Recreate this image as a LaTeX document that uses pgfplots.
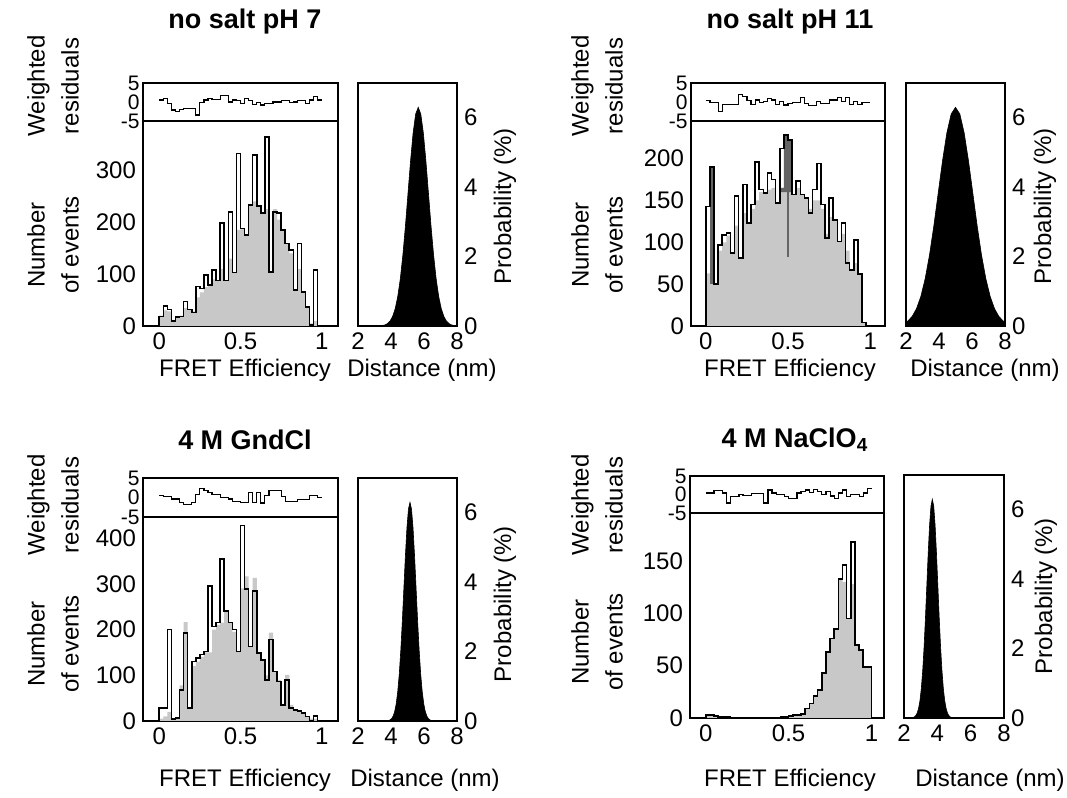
\documentclass[border=0pt]{standalone}
\usepackage{fontspec}
\setmainfont{Liberation Sans}
\usepackage{pgfplots}
\usepackage{pgfplotstable}
\pgfplotsset{compat=1.18}
\definecolor{fitgray}{RGB}{200,200,200}
\definecolor{darkbar}{RGB}{100,100,100}
\newcommand{\labfont}{\fontsize{12}{17}\selectfont}
\newcommand{\titfont}{\bfseries\fontsize{13.5}{16}\selectfont}
\pgfplotsset{
  base/.style={scale only axis, axis line style={line width=1pt}, tick style={draw=none},
    major tick length=0pt, /pgf/number format/assume math mode=true,
    ticklabel style={font=\fontsize{12}{14}\selectfont}},
  res/.style={base, width=97.5pt, height=19pt, ymin=-5, ymax=5, ytick={-5,0,5},
    yticklabels={-5,0,5}, xtick=\empty, xmin=-0.1, xmax=1.1,
    yticklabel style={font=\fontsize{10.5}{11}\selectfont, inner sep=1.5pt}},
  hist/.style={base, width=97.5pt, height=102.5pt, ymin=0, xtick={0,0.5,1},
    xticklabels={0,0.5,1}, xmin=-0.1, xmax=1.1},
  dist/.style={base, width=49.5pt, height=121.5pt, xmin=2, xmax=8, ymin=0, ymax=7,
    xtick={2,4,6,8}, ytick={0,2,4,6}, yticklabel pos=right},
  datline/.style={const plot, black, line width=0.8pt},
  fitfill/.style={const plot, fill=fitgray, draw=none},
  resline/.style={const plot, black, line width=0.6pt},
}
\pgfplotstableread{
x D F R
0 0 0 0.5
0 18 20 0.5
0.025 38 30 0.9
0.05 32 28 -0.4
0.075 10 12 -2.1
0.1 17 17 -2.6
0.125 18 20 -2.0
0.15 47 35 -1.7
0.175 32 32 -1.7
0.2 26 28 -1.7
0.225 76 55 -3.4
0.25 72 65 -0.2
0.275 98 75 0.5
0.3 79 79 0.9
0.325 108 90 0.7
0.35 88 88 0.7
0.375 199 110 1.8
0.4 88 88 1.8
0.425 220 130 0.0
0.45 103 103 0.5
0.475 332 185 0.3
0.5 188 188 -0.4
0.525 175 175 0.9
0.55 233 233 0.3
0.575 329 240 -0.6
0.6 231 231 -0.1
0.625 218 218 -0.8
0.65 364 225 -0.4
0.675 104 104 -0.4
0.7 220 225 0.0
0.725 218 205 0.0
0.75 185 185 0.3
0.775 159 159 0.3
0.8 146 140 -0.2
0.825 69 69 0.0
0.85 159 110 0.3
0.875 66 66 0.3
0.9 37 37 -0.4
0.925 2 5 0.5
0.95 108 10 1.5
0.975 0 0 0.5
1 0 0 0.5
}\tabA
\pgfplotstableread{
x D F R
0 0 0 0.3
0 143 63 0.3
0.025 190 50 -0.2
0.05 50 50 -0.2
0.075 97 90 -2.5
0.1 109 100 -0.6
0.125 111 108 -0.6
0.15 87 87 -0.6
0.175 155 120 -0.6
0.2 81 81 1.9
0.225 169 135 1.4
0.25 123 123 0.3
0.275 145 140 -0.6
0.3 196 150 0.5
0.325 163 160 -0.2
0.35 159 159 0.1
0.375 183 163 1.0
0.4 175 165 0.5
0.425 147 147 -0.6
0.45 212 165 0.1
0.475 228 160 -0.8
0.5 222 160 -0.4
0.525 157 157 -0.2
0.55 173 165 -0.2
0.575 157 157 1.2
0.6 153 153 -0.5
0.625 135 140 -1.0
0.65 163 150 -1.0
0.675 194 150 0.1
0.7 145 140 -0.4
0.725 105 110 -0.4
0.75 153 130 0.5
0.775 127 127 0.5
0.8 101 101 1.2
0.825 123 110 0.1
0.85 75 90 1.2
0.875 67 67 -0.6
0.9 103 75 0.1
0.925 62 62 -0.6
0.95 4 4 -0.2
0.975 0 0 -0.2
1 0 0 -0.2
}\tabB
\pgfplotstableread{
x D F R
0 0 0 0.5
0 28 5 0.5
0.025 28 10 0.3
0.05 200 20 0.3
0.075 4 4 -0.4
0.1 6 6 -0.4
0.125 68 78 -1.2
0.15 193 216 -1.8
0.175 28 28 -1.8
0.2 130 120 -1.2
0.225 138 130 0.7
0.25 145 140 2.4
0.275 152 150 1.8
0.3 295 150 1.3
0.325 207 200 0.7
0.35 215 210 0.7
0.375 354 215 -0.1
0.4 240 240 -0.1
0.425 215 215 -0.4
0.45 200 195 -1.0
0.475 152 152 -1.0
0.5 427 290 -1.2
0.525 288 316 -1.2
0.55 163 163 1.2
0.575 284 313 -1.2
0.6 149 149 1.2
0.625 134 134 -1.4
0.65 90 100 0.5
0.675 178 193 1.8
0.7 108 108 1.8
0.725 86 90 1.8
0.75 35 35 0.3
0.775 90 101 -1.0
0.8 28 35 -1.0
0.825 24 25 -1.0
0.85 22 20 -0.6
0.875 17 15 -0.6
0.9 10 10 -0.6
0.925 0 5 0.5
0.95 11 5 0.5
0.975 0 0 0.1
1 0 0 0.1
}\tabC
\pgfplotstableread{
x D F R
0 0 0 0.4
0 3 3 0.4
0.025 3 3 0.4
0.05 2 2 1.0
0.075 1 1 1.0
0.1 1 1 0.4
0.125 1 1 -2.3
0.15 0 0 -0.5
0.175 0 0 -0.5
0.2 0 0 0.0
0.225 0 0 -0.3
0.25 0 0 -0.3
0.275 0 0 0.3
0.3 0 0 0.3
0.325 0 0 0.3
0.35 0 0 -2.3
0.375 0 0 1.2
0.4 0 0 0.4
0.425 0 0 -0.1
0.45 1 1 -0.1
0.475 1 1 -0.5
0.5 2 2 -1.0
0.525 3 3 -1.0
0.55 3 3 0.4
0.575 4 4 0.8
0.6 9 9 1.2
0.625 14 14 0.5
0.65 21 21 1.4
0.675 27 27 0.8
0.7 43 43 -0.1
0.725 63 63 0.8
0.75 76 76 -0.4
0.775 85 85 -1.0
0.8 133 133 0.4
0.825 146 130 1.2
0.85 95 95 -0.5
0.875 168 128 -0.1
0.9 70 70 -0.1
0.925 65 65 -0.5
0.95 49 49 0.4
0.975 49 49 1.7
1 0 0 1.7
}\tabD
\begin{document}
\begin{tikzpicture}
\useasboundingbox (0,0) rectangle (533.5pt,399pt);
% ---------- Panel A: no salt pH 7 ----------
\begin{axis}[res, at={(71.5pt,338.5pt)}, anchor=south west]
\addplot[resline] table[x=x,y=R]{\tabA};
\end{axis}
\begin{axis}[hist, at={(71.5pt,236pt)}, anchor=south west, ymax=395, ytick={0,100,200,300}]
\addplot[fitfill] table[x=x,y=F]{\tabA} \closedcycle;
\addplot[datline] table[x=x,y=D]{\tabA};
\end{axis}
\begin{axis}[dist, at={(179pt,236pt)}, anchor=south west]
\addplot[fill=black, draw=black, line width=0.3pt] coordinates {(3.48,0.014) (3.635,0.032) (3.79,0.070) (3.945,0.144) (4.1,0.277) (4.255,0.501) (4.41,0.852) (4.565,1.363) (4.72,2.046) (4.875,2.884) (5.03,3.821) (5.185,4.755) (5.34,5.560) (5.495,6.106) (5.65,6.300) (5.805,6.106) (5.96,5.560) (6.115,4.755) (6.27,3.821) (6.425,2.884) (6.58,2.046) (6.735,1.363) (6.89,0.852) (7.045,0.501) (7.2,0.277) (7.355,0.144) (7.51,0.070) (7.665,0.032) (7.82,0.014)} \closedcycle;
\end{axis}
% ---------- Panel B: no salt pH 11 ----------
\begin{axis}[res, at={(345.5pt,338.5pt)}, anchor=south west, width=97pt, xmin=-0.09, xmax=1.09]
\addplot[resline] table[x=x,y=R]{\tabB};
\end{axis}
\begin{axis}[hist, at={(345.5pt,236pt)}, anchor=south west, width=97pt, xmin=-0.09, xmax=1.09, ymax=245, ytick={0,50,100,150,200}]
\addplot[fitfill] table[x=x,y=F]{\tabB} \closedcycle;
\addplot[fill=darkbar, draw=none] coordinates {(0.025,50) (0.05,50) (0.05,190) (0.025,190)} --cycle;
\addplot[fill=darkbar, draw=none] coordinates {(0.45,165) (0.475,165) (0.475,228) (0.5,228) (0.5,222) (0.525,222) (0.525,160) (0.45,160)} --cycle;
\addplot[fill=darkbar, draw=none] coordinates {(0.493,83) (0.509,83) (0.509,165) (0.493,165)} --cycle;
\addplot[datline] table[x=x,y=D]{\tabB};
\end{axis}
\begin{axis}[dist, at={(453pt,236pt)}, anchor=south west]
\addplot[fill=black, draw=black, line width=0.3pt] coordinates {(1.85,0.070) (2.1125,0.144) (2.375,0.277) (2.6375,0.501) (2.9,0.852) (3.1625,1.363) (3.425,2.046) (3.6875,2.884) (3.95,3.821) (4.2125,4.755) (4.475,5.560) (4.7375,6.106) (5,6.300) (5.2625,6.106) (5.525,5.560) (5.7875,4.755) (6.05,3.821) (6.3125,2.884) (6.575,2.046) (6.8375,1.363) (7.1,0.852) (7.3625,0.501) (7.625,0.277) (7.8875,0.144) (8.15,0.070)} \closedcycle;
\end{axis}
% ---------- Panel C: 4 M GndCl ----------
\begin{axis}[res, at={(71.5pt,140.5pt)}, anchor=south west, height=19.5pt]
\addplot[resline] table[x=x,y=R]{\tabC};
\end{axis}
\begin{axis}[hist, at={(71.5pt,38.5pt)}, anchor=south west, height=102pt, ymax=446, ytick={0,100,200,300,400}]
\addplot[fitfill] table[x=x,y=F]{\tabC} \closedcycle;
\addplot[datline] table[x=x,y=D]{\tabC};
\end{axis}
\begin{axis}[dist, at={(179pt,38.5pt)}, anchor=south west, height=121.5pt]
\addplot[fill=black, draw=black, line width=0.3pt] coordinates {(3.855,0.014) (3.9475,0.032) (4.04,0.070) (4.1325,0.144) (4.225,0.277) (4.3175,0.501) (4.41,0.852) (4.5025,1.363) (4.595,2.046) (4.6875,2.884) (4.78,3.821) (4.8725,4.755) (4.965,5.560) (5.0575,6.106) (5.15,6.300) (5.2425,6.106) (5.335,5.560) (5.4275,4.755) (5.52,3.821) (5.6125,2.884) (5.705,2.046) (5.7975,1.363) (5.89,0.852) (5.9825,0.501) (6.075,0.277) (6.1675,0.144) (6.26,0.070) (6.3525,0.032) (6.445,0.014)} \closedcycle;
\end{axis}
% ---------- Panel D: 4 M NaClO4 ----------
\begin{axis}[res, at={(345pt,142.5pt)}, anchor=south west, width=97pt, height=18.5pt, xmin=-0.095, xmax=1.075]
\addplot[resline] table[x=x,y=R]{\tabD};
\end{axis}
\begin{axis}[hist, at={(345pt,40pt)}, anchor=south west, width=97pt, height=102.5pt, xmin=-0.095, xmax=1.075, ymax=196, ytick={0,50,100,150}]
\addplot[fitfill] table[x=x,y=F]{\tabD} \closedcycle;
\addplot[datline] table[x=x,y=D]{\tabD};
\end{axis}
\begin{axis}[dist, at={(452pt,40pt)}, anchor=south west, width=50pt, height=121.5pt]
\addplot[fill=black, draw=black, line width=0.3pt] coordinates {(2.545,0.014) (2.6275,0.032) (2.71,0.070) (2.7925,0.144) (2.875,0.277) (2.9575,0.501) (3.04,0.852) (3.1225,1.363) (3.205,2.046) (3.2875,2.884) (3.37,3.821) (3.4525,4.755) (3.535,5.560) (3.6175,6.106) (3.7,6.300) (3.7825,6.106) (3.865,5.560) (3.9475,4.755) (4.03,3.821) (4.1125,2.884) (4.195,2.046) (4.2775,1.363) (4.36,0.852) (4.4425,0.501) (4.525,0.277) (4.6075,0.144) (4.69,0.070) (4.7725,0.032) (4.855,0.014)} \closedcycle;
\end{axis}
% ---------- Text ----------
\node[font=\titfont] at (122.5pt,388pt) {no salt pH 7};
\node[font=\titfont] at (395pt,388pt) {no salt pH 11};
\node[font=\titfont] at (122.5pt,179pt) {4 M GndCl};
\node[font=\titfont] at (397.5pt,179pt) {4 M NaClO\textsubscript{4}};
\node[font=\labfont] at (122.5pt,214pt) {FRET Efficiency};
\node[font=\labfont] at (395pt,214pt) {FRET Efficiency};
\node[font=\labfont] at (122.5pt,9pt) {FRET Efficiency};
\node[font=\labfont] at (395pt,9pt) {FRET Efficiency};
\node[font=\labfont] at (211pt,214pt) {Distance (nm)};
\node[font=\labfont] at (492.5pt,214pt) {Distance (nm)};
\node[font=\labfont] at (212.5pt,9pt) {Distance (nm)};
\node[font=\labfont] at (495pt,9pt) {Distance (nm)};
\node[font=\labfont, rotate=90] at (252.5pt,296pt) {Probability (\%)};
\node[font=\labfont, rotate=90] at (522.5pt,296pt) {Probability (\%)};
\node[font=\labfont, rotate=90] at (252.5pt,97pt) {Probability (\%)};
\node[font=\labfont, rotate=90] at (523pt,101pt) {Probability (\%)};
\node[font=\labfont, rotate=90, align=center] at (26.5pt,356pt) {Weighted\\residuals};
\node[font=\labfont, rotate=90, align=center] at (26.5pt,276.5pt) {Number\\of events};
\node[font=\labfont, rotate=90, align=center] at (26.5pt,146.5pt) {Weighted\\residuals};
\node[font=\labfont, rotate=90, align=center] at (26.5pt,77pt) {Number\\of events};
\node[font=\labfont, rotate=90, align=center] at (298.5pt,356pt) {Weighted\\residuals};
\node[font=\labfont, rotate=90, align=center] at (298.5pt,276.5pt) {Number\\of events};
\node[font=\labfont, rotate=90, align=center] at (298.5pt,146.5pt) {Weighted\\residuals};
\node[font=\labfont, rotate=90, align=center] at (298.5pt,78pt) {Number\\of events};
\end{tikzpicture}
\end{document}
